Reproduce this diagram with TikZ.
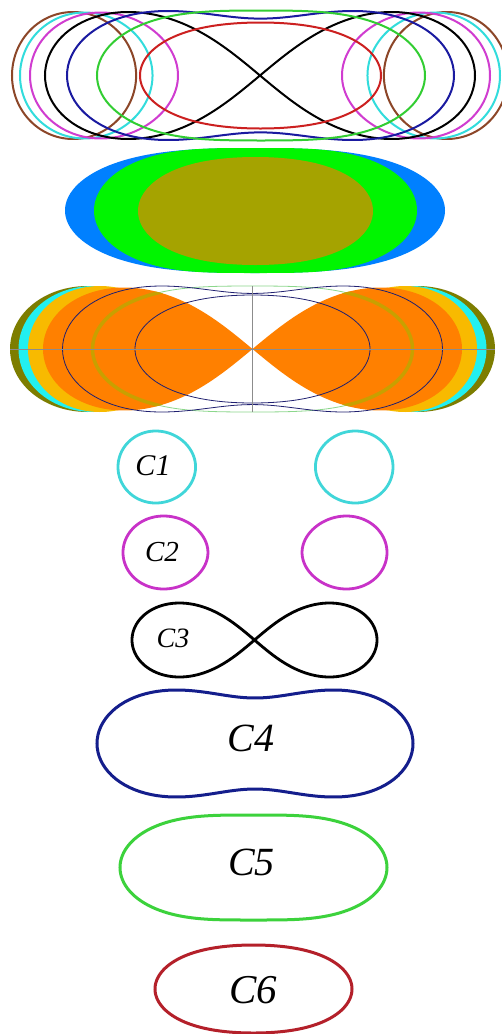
\documentclass[tikz,border=0pt]{standalone}
\usepackage{fontspec}
\setmainfont{Liberation Serif}
\definecolor{brownc}{RGB}{140,70,40}
\definecolor{cyanc}{RGB}{50,220,220}
\definecolor{magc}{RGB}{208,60,208}
\definecolor{bluec}{RGB}{26,26,160}
\definecolor{greenc}{RGB}{50,205,50}
\definecolor{redc}{RGB}{204,32,32}
\definecolor{fblue}{RGB}{0,128,255}
\definecolor{fgreen}{RGB}{0,245,0}
\definecolor{folive}{RGB}{165,163,0}
\definecolor{dolive}{RGB}{125,125,0}
\definecolor{bcyan}{RGB}{34,240,240}
\definecolor{gold}{RGB}{248,186,0}
\definecolor{orangec}{RGB}{255,128,0}
\definecolor{khaki}{RGB}{200,160,0}
\definecolor{navyl}{RGB}{32,32,112}
\definecolor{lgreen}{RGB}{140,215,140}
\definecolor{axisgray}{RGB}{140,140,140}
\definecolor{cyanC}{RGB}{64,214,217}
\definecolor{magC}{RGB}{200,50,200}
\definecolor{navyC}{RGB}{20,30,140}
\definecolor{greenC}{RGB}{60,210,60}
\definecolor{redC}{RGB}{180,32,42}
\tikzset{
  declare function={
    ovR(\myt,\myb)=sqrt(cos(2*\myt)+sqrt(\myb*\myb*\myb*\myb-sin(2*\myt)*sin(2*\myt)));
    lpT(\myt,\myb)=0.5*asin(\myb*\myb*sin(\myt));
    lpR(\myt,\myb)=sqrt(sqrt(max(0,1-\myb*\myb*\myb*\myb*sin(\myt)*sin(\myt)))+\myb*\myb*cos(\myt));
  },
  thinc/.style={line width=2pt},
  thickc/.style={line width=2.8pt},
  hair/.style={line width=0.8pt},
  lab/.style={inner sep=0pt,font=\itshape}
}
% single oval / peanut: cx cy halfwidth halfheight b options
\newcommand\ovalP[6]{%
  \pgfmathsetmacro\oxo{sqrt(1+(#5)*(#5))}%
  \pgfmathsetmacro\oym{(#5)>1.414 ? sqrt(max(0,(#5)*(#5)-1)) : (#5)*(#5)/2}%
  \path[#6] plot[domain=0:360,samples=181,variable=\t]
   ({#1+#3/\oxo*ovR(\t,#5)*cos(\t)},{#2+#4/\oym*ovR(\t,#5)*sin(\t)}) -- cycle;
}
% two loops: cx cy outer halfwidth halfheight b options
\newcommand\loopsP[6]{%
  \pgfmathsetmacro\lxo{sqrt(1+(#5)*(#5))}%
  \pgfmathsetmacro\lym{(#5)*(#5)/2}%
  \path[#6] plot[domain=0:360,samples=181,variable=\t]
   ({#1+#3/\lxo*lpR(\t,#5)*cos(lpT(\t,#5))},{#2+#4/\lym*lpR(\t,#5)*sin(lpT(\t,#5))}) -- cycle
   plot[domain=0:360,samples=181,variable=\t]
   ({#1-#3/\lxo*lpR(\t,#5)*cos(lpT(\t,#5))},{#2+#4/\lym*lpR(\t,#5)*sin(lpT(\t,#5))}) -- cycle;
}
% lemniscate: cx cy halfwidth halfheight options
\newcommand\lemnP[5]{%
  \path[#5] plot[domain=0:360,samples=241,variable=\t]
   ({#1+#3*cos(\t)/(1+sin(\t)*sin(\t))},{#2+#4/0.353553*sin(\t)*cos(\t)/(1+sin(\t)*sin(\t))}) -- cycle;
}
\begin{document}
\begin{tikzpicture}[x=1pt,y=-1pt]
\fill[white] (0,0) rectangle (502,1034);
\path[use as bounding box] (0,0) rectangle (502,1034);
% ---------- panel 1 : family of curves ----------
\loopsP{260}{75.5}{248}{63.5}{0.775}{draw=brownc,thinc}
\loopsP{260}{75.5}{240}{63}{0.816}{draw=cyanc,thinc}
\loopsP{260}{75.5}{230}{63}{0.88}{draw=magc,thinc}
\lemnP{260}{75.5}{215}{63.5}{draw=black,thinc}
\ovalP{260.5}{75.5}{193.5}{64.5}{1.166}{draw=bluec,thinc}
\ovalP{261}{75.5}{164}{65}{1.45}{draw=greenc,thinc}
\ovalP{260.5}{75.5}{120.5}{53}{1.8}{draw=redc,thinc}
% ---------- panel 2 : filled ovals ----------
\ovalP{255}{210.5}{190}{62.5}{1.5}{fill=fblue}
\ovalP{255.5}{210.5}{161.5}{62.5}{1.42}{fill=fgreen}
\ovalP{255.5}{211}{117.5}{54}{1.8}{fill=folive}
% ---------- panel 3 : filled loops ----------
\loopsP{252.5}{349}{242.5}{63}{0.9}{fill=dolive}
\loopsP{252.5}{349}{234}{63}{0.9}{fill=bcyan}
\loopsP{252.5}{349}{224.5}{63}{0.9}{fill=gold}
\ovalP{252.5}{349}{160}{63}{1.45}{draw=lgreen,hair}
\lemnP{252.5}{349}{209.5}{61.5}{fill=orangec}
\begin{scope}
  \lemnP{252.5}{349}{209.5}{61.5}{clip}
  \ovalP{252.5}{349}{160}{63}{1.45}{draw=khaki,line width=3.5pt}
\end{scope}
\ovalP{252.5}{349}{190}{63}{1.166}{draw=navyl,hair}
\ovalP{252.5}{349}{117.5}{54}{1.8}{draw=navyl,hair}
\coordinate (hl) at (10,349);
\coordinate (hr) at (495,349);
\coordinate (vt) at (252.5,286);
\coordinate (vb) at (252.5,412);
\draw[axisgray,line width=0.7pt] (hl) -- (hr);
\draw[axisgray,line width=0.7pt] (vt) -- (vb);
% ---------- panel 4 : labelled curves ----------
\loopsP{255.5}{467}{137.5}{36}{0.825}{draw=cyanC,thickc}
\loopsP{255}{552.5}{132}{36.5}{0.88}{draw=magC,thickc}
\lemnP{254.5}{640}{122.5}{37}{draw=black,thickc}
\ovalP{255}{743.5}{158}{53.5}{1.145}{draw=navyC,line width=3pt}
\ovalP{253.5}{867.5}{133.5}{52.5}{1.42}{draw=greenC,line width=3pt}
\ovalP{253.5}{989}{98.5}{44}{1.8}{draw=redC,line width=3pt}
\node[lab,font=\itshape\fontsize{30}{30}\selectfont] (c1) at (153,466) {C1};
\node[lab,font=\itshape\fontsize{29}{29}\selectfont] (c2) at (162,552) {C2};
\node[lab,font=\itshape\fontsize{28}{28}\selectfont] (c3) at (173,638) {C3};
\node[lab,font=\itshape\fontsize{40}{40}\selectfont] (c4) at (251,738.5) {C4};
\node[lab,font=\itshape\fontsize{40}{40}\selectfont] (c5) at (251.5,862) {C5};
\node[lab,font=\itshape\fontsize{41}{41}\selectfont] (c6) at (253,990) {C6};
\end{tikzpicture}
\end{document}
